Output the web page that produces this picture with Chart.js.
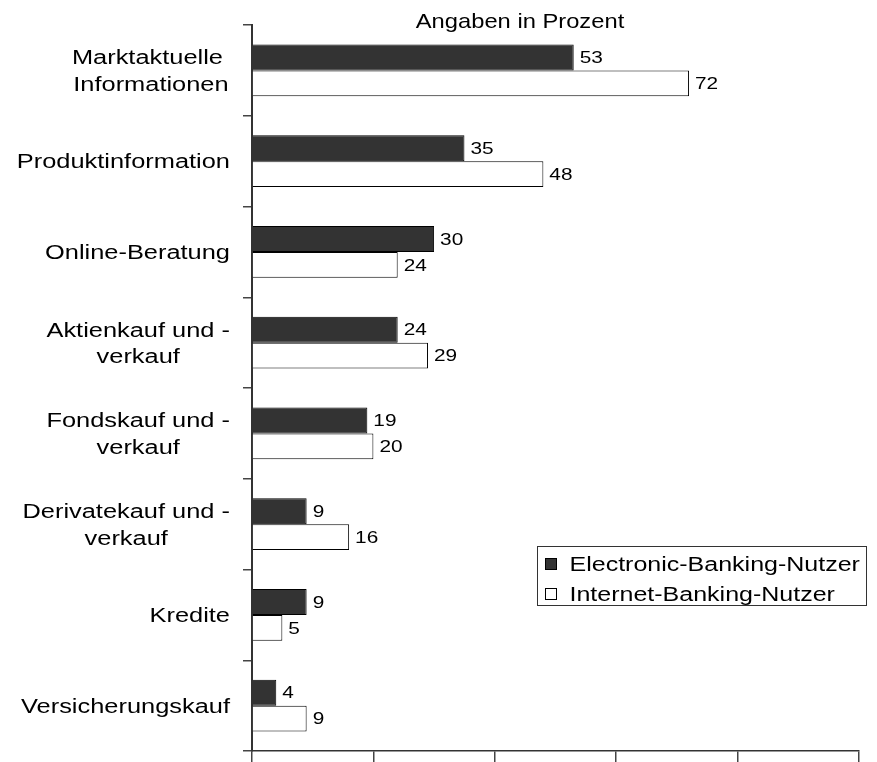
<!DOCTYPE html>
<html lang="de">
<head>
<meta charset="utf-8">
<title>Angaben in Prozent</title>
<script src="https://cdn.jsdelivr.net/npm/chart.js@4.4.1/dist/chart.umd.min.js"></script>
<style>
  html, body { margin: 0; padding: 0; background: #fff; }
  canvas { display: block; }
</style>
</head>
<body>
<canvas id="bar-chart" width="877" height="762"></canvas>
<script>
// Data
var categories = [
  ["Marktaktuelle ", "Informationen"],
  "Produktinformation",
  "Online-Beratung",
  ["Aktienkauf und -", "verkauf"],
  ["Fondskauf und -", "verkauf"],
  ["Derivatekauf und -", "verkauf"],
  "Kredite",
  "Versicherungskauf"
];
var electronicBanking = [53, 35, 30, 24, 19, 9, 9, 4];
var internetBanking = [72, 48, 24, 29, 20, 16, 5, 9];
var seriesNames = ["Electronic-Banking-Nutzer", "Internet-Banking-Nutzer"];
var xTicks = [0, 20, 40, 60, 80, 100];
var chartTitle = "Angaben in Prozent";

var FONT = '"Liberation Sans", Arial, sans-serif';
var CAP = 0.716;

// text is drawn a bit wider than the font itself
function wideText(ctx, text, x, y, size, sx, align) {
  ctx.save();
  ctx.font = size + "px " + FONT;
  var w = ctx.measureText(text).width * sx;
  var left = align === "right" ? x - w : (align === "center" ? x - w / 2 : x);
  ctx.translate(left, y);
  ctx.scale(sx, 1);
  ctx.textAlign = "left";
  ctx.textBaseline = "alphabetic";
  ctx.fillStyle = "#000";
  ctx.fillText(text, 0, 0);
  ctx.restore();
}

function textWidth(ctx, text, size, sx) {
  ctx.save();
  ctx.font = size + "px " + FONT;
  var w = ctx.measureText(text).width * sx;
  ctx.restore();
  return w;
}

// Category names left of the y axis, multi-line names centred as a block
var categoryLabels = {
  id: "categoryLabels",
  afterDraw: function (chart) {
    var ctx = chart.ctx, y = chart.scales.y;
    var size = 20, sx = 1.27, lh = 26.5;
    var right = chart.chartArea.left - 22;
    categories.forEach(function (cat, i) {
      var lines = Array.isArray(cat) ? cat : [cat];
      var widest = 0;
      lines.forEach(function (l) { widest = Math.max(widest, textWidth(ctx, l, size, sx)); });
      var cx = right - widest / 2;
      var first = y.getPixelForValue(i) - (lines.length - 1) * lh / 2 + size * CAP / 2;
      lines.forEach(function (l, j) {
        if (lines.length === 1) {
          wideText(ctx, l, right, first, size, sx, "right");
        } else {
          wideText(ctx, l, cx, first + j * lh, size, sx, "center");
        }
      });
    });
  }
};

// Value labels at the end of each bar
var valueLabels = {
  id: "valueLabels",
  afterDatasetsDraw: function (chart) {
    var ctx = chart.ctx;
    chart.data.datasets.forEach(function (ds, d) {
      chart.getDatasetMeta(d).data.forEach(function (bar, i) {
        wideText(ctx, String(ds.data[i]), bar.x + 6, bar.y + 16 * CAP / 2, 16, 1.3, "left");
      });
    });
  }
};

var titleText = {
  id: "titleText",
  afterDraw: function (chart) {
    wideText(chart.ctx, chartTitle, chart.chartArea.left + 268, 28, 21, 1.13, "center");
  }
};

// Boxed legend inside the plot
var boxLegend = {
  id: "boxLegend",
  afterDraw: function (chart) {
    var ctx = chart.ctx;
    var bx = 537.5, by = 546.5, bw = 329, bh = 59;
    ctx.save();
    ctx.fillStyle = "#fff";
    ctx.fillRect(bx, by, bw, bh);
    ctx.strokeStyle = "#333";
    ctx.lineWidth = 1;
    ctx.strokeRect(bx, by, bw, bh);
    chart.data.datasets.forEach(function (ds, d) {
      var cy = by + 17.5 + d * 30;
      ctx.fillStyle = ds.backgroundColor;
      ctx.fillRect(bx + 8, cy - 5.5, 11, 11);
      ctx.strokeStyle = "#000";
      ctx.strokeRect(bx + 8, cy - 5.5, 11, 11);
      wideText(ctx, ds.label, bx + 32, cy + 20 * CAP / 2, 20, 1.25, "left");
    });
    ctx.restore();
  }
};

var ctx = document.getElementById("bar-chart").getContext("2d");
var myChart = new Chart(ctx, {
  type: "bar",
  data: {
    labels: categories,
    datasets: [{
      label: seriesNames[0],
      data: electronicBanking,
      backgroundColor: "#333333",
      borderColor: "#000",
      borderWidth: 1
    }, {
      label: seriesNames[1],
      data: internetBanking,
      backgroundColor: "#ffffff",
      borderColor: "#000",
      borderWidth: 1
    }]
  },
  options: {
    indexAxis: "y",
    responsive: false,
    animation: false,
    devicePixelRatio: 1,
    categoryPercentage: 0.573,
    barPercentage: 1,
    layout: { padding: { top: 25, right: 18, bottom: 0, left: 0 } },
    plugins: {
      legend: { display: false },
      title: { display: false },
      tooltip: { enabled: false }
    },
    scales: {
      x: {
        min: 0,
        max: 100,
        afterBuildTicks: function (scale) {
          scale.ticks = xTicks.map(function (v) { return { value: v }; });
        },
        ticks: { display: false },
        grid: { drawOnChartArea: false, tickLength: 11, color: "#444", lineWidth: 1.5 },
        border: { color: "#333", width: 1.5 }
      },
      y: {
        ticks: { display: false },
        grid: { drawOnChartArea: false, offset: true, tickLength: 9, color: "#444", lineWidth: 1.5 },
        border: { color: "#333", width: 2 },
        afterFit: function (scale) { scale.width = 252; }
      }
    }
  },
  plugins: [valueLabels, categoryLabels, titleText, boxLegend]
});
</script>
</body>
</html>
